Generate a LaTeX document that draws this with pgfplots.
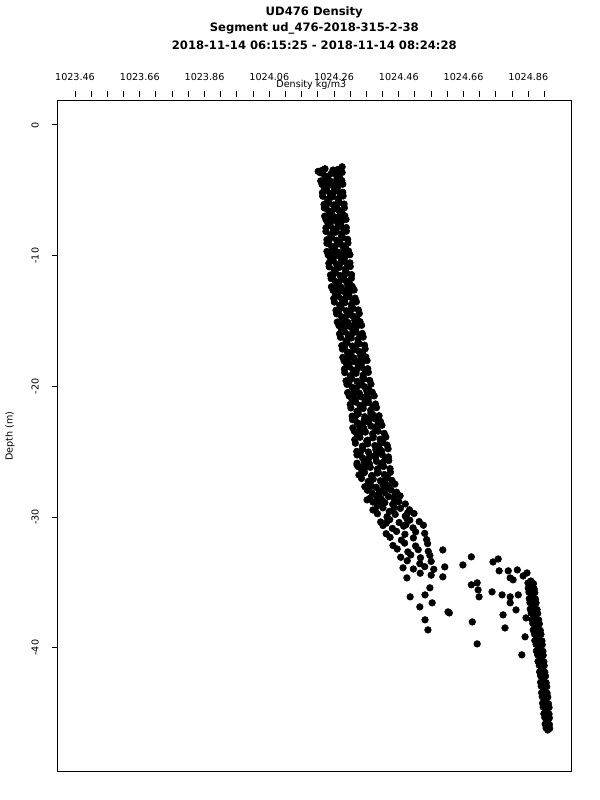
\documentclass[border=0pt]{standalone}
\usepackage{fontspec}
\setmainfont{DejaVu Sans}
\usepackage{pgfplots}
\pgfplotsset{compat=1.18}
\begin{document}
\begin{tikzpicture}
\useasboundingbox (0,0) rectangle (450pt,600pt);
\begin{axis}[name=ax, at={(42.98pt,21.53pt)}, anchor=south west,
  scale only axis, width=385.5pt, height=502.95pt,
  xmin=1023.4053, xmax=1024.9928, ymin=-49.46, ymax=1.86,
  axis line style={line width=0.75pt},
  xtick pos=right, xticklabel pos=right, ytick pos=left, yticklabel pos=left,
  tick align=outside, major tick length=4pt,
  xtick={1023.46,1023.51,1023.56,1023.61,1023.66,1023.71,1023.76,1023.81,1023.86,1023.91,1023.96,1024.01,1024.06,1024.11,1024.16,1024.21,1024.26,1024.31,1024.36,1024.41,1024.46,1024.51,1024.56,1024.61,1024.66,1024.71,1024.76,1024.81,1024.86,1024.91},
  xticklabels={1023.46,,,,1023.66,,,,1023.86,,,,1024.06,,,,1024.26,,,,1024.46,,,,1024.66,,,,1024.86,},
  ytick={-40,-30,-20,-10,0},
  yticklabels={-40,-30,-20,-10,0},
  tick style={black, line width=0.75pt},
  xtick style={yshift=3pt},
  tick label style={font=\fontsize{7.2}{8}\selectfont},
  xticklabel style={anchor=base, yshift=10.8pt},
  yticklabel style={xshift=-10pt, rotate=90, anchor=base},
]
\addplot[only marks, mark=*, mark size=2.5pt, black] coordinates {
(1024.211,-3.55) (1024.232,-3.35) (1024.257,-3.45) (1024.285,-3.20) (1024.272,-3.40)
(1024.217,-3.65) (1024.231,-3.87) (1024.252,-3.70) (1024.267,-3.83) (1024.285,-3.63)
(1024.219,-4.28) (1024.237,-4.10) (1024.250,-4.32) (1024.269,-4.14) (1024.284,-4.25)
(1024.223,-4.55) (1024.237,-4.77) (1024.252,-4.60) (1024.272,-4.73) (1024.287,-4.53)
(1024.224,-5.18) (1024.237,-5.00) (1024.257,-5.22) (1024.270,-5.04) (1024.287,-5.15)
(1024.225,-5.45) (1024.243,-5.67) (1024.255,-5.50) (1024.274,-5.63) (1024.288,-5.43)
(1024.229,-6.08) (1024.243,-5.90) (1024.258,-6.12) (1024.276,-5.94) (1024.291,-6.05)
(1024.230,-6.35) (1024.243,-6.57) (1024.262,-6.40) (1024.275,-6.53) (1024.292,-6.33)
(1024.231,-6.98) (1024.249,-6.80) (1024.260,-7.02) (1024.279,-6.84) (1024.293,-6.95)
(1024.235,-7.25) (1024.249,-7.47) (1024.264,-7.30) (1024.282,-7.43) (1024.297,-7.23)
(1024.235,-7.88) (1024.248,-7.70) (1024.268,-7.92) (1024.281,-7.74) (1024.298,-7.85)
(1024.235,-8.15) (1024.253,-8.37) (1024.265,-8.20) (1024.284,-8.33) (1024.298,-8.13)
(1024.238,-8.78) (1024.252,-8.60) (1024.268,-8.82) (1024.287,-8.64) (1024.302,-8.75)
(1024.238,-9.05) (1024.252,-9.27) (1024.272,-9.10) (1024.286,-9.23) (1024.303,-9.03)
(1024.238,-9.68) (1024.257,-9.50) (1024.270,-9.72) (1024.290,-9.54) (1024.305,-9.65)
(1024.242,-9.95) (1024.257,-10.17) (1024.273,-10.00) (1024.293,-10.13) (1024.309,-9.93)
(1024.244,-10.58) (1024.258,-10.40) (1024.278,-10.62) (1024.292,-10.44) (1024.309,-10.55)
(1024.245,-10.85) (1024.264,-11.07) (1024.276,-10.90) (1024.296,-11.03) (1024.310,-10.83)
(1024.249,-11.48) (1024.264,-11.30) (1024.279,-11.52) (1024.299,-11.34) (1024.314,-11.45)
(1024.251,-11.75) (1024.264,-11.97) (1024.284,-11.80) (1024.297,-11.93) (1024.314,-11.73)
(1024.252,-12.38) (1024.270,-12.20) (1024.282,-12.42) (1024.302,-12.24) (1024.316,-12.35)
(1024.257,-12.65) (1024.272,-12.87) (1024.287,-12.70) (1024.307,-12.83) (1024.322,-12.63)
(1024.259,-13.28) (1024.273,-13.10) (1024.294,-13.32) (1024.307,-13.14) (1024.325,-13.25)
(1024.261,-13.55) (1024.280,-13.77) (1024.293,-13.60) (1024.314,-13.73) (1024.329,-13.53)
(1024.266,-14.18) (1024.282,-14.00) (1024.298,-14.22) (1024.319,-14.04) (1024.335,-14.15)
(1024.268,-14.45) (1024.283,-14.67) (1024.305,-14.50) (1024.319,-14.63) (1024.338,-14.43)
(1024.270,-15.08) (1024.290,-14.90) (1024.303,-15.12) (1024.324,-14.94) (1024.340,-15.05)
(1024.275,-15.35) (1024.291,-15.57) (1024.308,-15.40) (1024.328,-15.53) (1024.345,-15.33)
(1024.277,-15.98) (1024.292,-15.80) (1024.314,-16.02) (1024.328,-15.84) (1024.347,-15.95)
(1024.280,-16.25) (1024.300,-16.47) (1024.313,-16.30) (1024.334,-16.43) (1024.350,-16.23)
(1024.284,-16.88) (1024.300,-16.70) (1024.317,-16.92) (1024.337,-16.74) (1024.354,-16.85)
(1024.286,-17.15) (1024.301,-17.37) (1024.323,-17.20) (1024.337,-17.33) (1024.356,-17.13)
(1024.287,-17.78) (1024.307,-17.60) (1024.321,-17.82) (1024.342,-17.64) (1024.358,-17.75)
(1024.291,-18.05) (1024.307,-18.27) (1024.324,-18.10) (1024.345,-18.23) (1024.362,-18.03)
(1024.292,-18.68) (1024.307,-18.50) (1024.330,-18.72) (1024.345,-18.54) (1024.364,-18.65)
(1024.293,-18.95) (1024.313,-19.17) (1024.328,-19.00) (1024.350,-19.13) (1024.366,-18.93)
(1024.297,-19.58) (1024.314,-19.40) (1024.331,-19.62) (1024.353,-19.44) (1024.370,-19.55)
(1024.300,-19.85) (1024.316,-20.07) (1024.339,-19.90) (1024.354,-20.03) (1024.374,-19.83)
(1024.302,-20.48) (1024.323,-20.30) (1024.338,-20.52) (1024.361,-20.34) (1024.378,-20.45)
(1024.307,-20.75) (1024.325,-20.97) (1024.343,-20.80) (1024.366,-20.93) (1024.384,-20.73)
(1024.310,-21.38) (1024.327,-21.20) (1024.351,-21.42) (1024.367,-21.24) (1024.388,-21.35)
(1024.312,-21.65) (1024.334,-21.87) (1024.350,-21.70) (1024.373,-21.83) (1024.391,-21.63)
(1024.316,-22.28) (1024.335,-22.10) (1024.355,-22.32) (1024.379,-22.14) (1024.399,-22.25)
(1024.317,-22.55) (1024.331,-22.77) (1024.353,-22.60) (1024.367,-22.73) (1024.387,-22.50) (1024.403,-22.68)
(1024.318,-23.18) (1024.338,-23.00) (1024.352,-23.22) (1024.374,-23.04) (1024.390,-23.15) (1024.408,-22.98)
(1024.323,-23.45) (1024.340,-23.67) (1024.357,-23.50) (1024.379,-23.63) (1024.396,-23.43) (1024.415,-23.60)
(1024.324,-24.08) (1024.340,-23.90) (1024.364,-24.12) (1024.380,-23.94) (1024.402,-24.05) (1024.420,-23.88)
(1024.326,-24.35) (1024.348,-24.57) (1024.364,-24.40) (1024.386,-24.53) (1024.404,-24.33) (1024.424,-24.50)
(1024.330,-24.98) (1024.348,-24.80) (1024.366,-25.02) (1024.389,-24.84) (1024.407,-24.95) (1024.427,-24.78)
(1024.331,-25.25) (1024.348,-25.47) (1024.371,-25.30) (1024.388,-25.43) (1024.409,-25.23) (1024.428,-25.40)
(1024.331,-25.88) (1024.353,-25.70) (1024.369,-25.92) (1024.391,-25.74) (1024.409,-25.85) (1024.429,-25.68)
(1024.335,-26.15) (1024.353,-26.37) (1024.372,-26.20) (1024.394,-26.33) (1024.413,-26.13) (1024.433,-26.30)
(1024.337,-26.78) (1024.354,-26.60) (1024.377,-26.82) (1024.394,-26.64) (1024.415,-26.75) (1024.434,-26.58)
(1024.345,-27.05) (1024.366,-27.27) (1024.381,-27.10) (1024.403,-27.23) (1024.420,-27.03) (1024.439,-27.20)
(1024.355,-27.68) (1024.372,-27.50) (1024.390,-27.72) (1024.411,-27.54) (1024.429,-27.65) (1024.448,-27.48)
(1024.363,-27.95) (1024.378,-28.17) (1024.400,-28.00) (1024.416,-28.13) (1024.436,-27.93) (1024.453,-28.10)
(1024.370,-28.58) (1024.391,-28.40) (1024.406,-28.62) (1024.428,-28.44) (1024.445,-28.55) (1024.464,-28.38)
(1024.380,-28.85) (1024.398,-29.07) (1024.417,-28.90) (1024.441,-29.03) (1024.460,-28.83) (1024.480,-29.00)
(1024.387,-29.48) (1024.411,-29.30) (1024.442,-29.52) (1024.465,-29.34) (1024.493,-29.45)
(1024.394,-29.75) (1024.424,-29.97) (1024.449,-29.80) (1024.480,-29.93) (1024.507,-29.73)
(1024.404,-30.38) (1024.432,-30.20) (1024.461,-30.42) (1024.494,-30.24) (1024.523,-30.35)
(1024.411,-30.65) (1024.440,-30.87) (1024.475,-30.70) (1024.504,-30.83) (1024.536,-30.63)
(1024.421,-31.28) (1024.453,-31.10) (1024.479,-31.32) (1024.512,-31.14) (1024.540,-31.25)
(1024.433,-31.55) (1024.468,-31.77) (1024.505,-31.60) (1024.546,-31.73)
(1024.442,-32.18) (1024.478,-32.00) (1024.512,-32.22) (1024.549,-32.04)
(1024.455,-32.45) (1024.488,-32.67) (1024.520,-32.50) (1024.551,-32.63)
(1024.466,-33.08) (1024.497,-32.90) (1024.527,-33.12) (1024.556,-32.94)
(1024.486,-33.35) (1024.525,-33.57) (1024.560,-33.40)
(1024.505,-33.98) (1024.540,-33.80) (1024.568,-34.00)
(1024.526,-34.30) (1024.560,-34.45)
(1024.223,-3.47) (1024.258,-3.59) (1024.242,-3.92) (1024.277,-4.04)
(1024.234,-4.37) (1024.269,-4.49) (1024.230,-4.82) (1024.262,-4.94)
(1024.248,-5.27) (1024.280,-5.39) (1024.240,-5.72) (1024.273,-5.84)
(1024.236,-6.17) (1024.267,-6.29) (1024.253,-6.62) (1024.285,-6.74)
(1024.246,-7.07) (1024.279,-7.19) (1024.241,-7.52) (1024.273,-7.64)
(1024.258,-7.97) (1024.291,-8.09) (1024.250,-8.42) (1024.283,-8.54)
(1024.244,-8.87) (1024.277,-8.99) (1024.262,-9.32) (1024.296,-9.44)
(1024.254,-9.77) (1024.289,-9.89) (1024.249,-10.22) (1024.283,-10.34)
(1024.268,-10.67) (1024.302,-10.79) (1024.261,-11.12) (1024.295,-11.24)
(1024.256,-11.57) (1024.289,-11.69) (1024.275,-12.02) (1024.308,-12.14)
(1024.268,-12.47) (1024.302,-12.59) (1024.264,-12.92) (1024.298,-13.04)
(1024.285,-13.37) (1024.319,-13.49) (1024.278,-13.82) (1024.314,-13.94)
(1024.274,-14.27) (1024.309,-14.39) (1024.295,-14.72) (1024.331,-14.84)
(1024.287,-15.17) (1024.324,-15.29) (1024.283,-15.62) (1024.319,-15.74)
(1024.304,-16.07) (1024.340,-16.19) (1024.297,-16.52) (1024.334,-16.64)
(1024.292,-16.97) (1024.327,-17.09) (1024.312,-17.42) (1024.349,-17.54)
(1024.304,-17.87) (1024.341,-17.99) (1024.299,-18.32) (1024.335,-18.44)
(1024.319,-18.77) (1024.357,-18.89) (1024.310,-19.22) (1024.349,-19.34)
(1024.306,-19.67) (1024.343,-19.79) (1024.329,-20.12) (1024.367,-20.24)
(1024.321,-20.57) (1024.361,-20.69) (1024.316,-21.02) (1024.356,-21.14)
(1024.340,-21.47) (1024.380,-21.59) (1024.331,-21.92) (1024.374,-22.04)
(1024.325,-22.37) (1024.368,-22.49) (1024.350,-22.82) (1024.395,-22.94)
(1024.340,-23.27) (1024.388,-23.39) (1024.333,-23.72) (1024.381,-23.84)
(1024.361,-24.17) (1024.411,-24.29) (1024.349,-24.62) (1024.400,-24.74)
(1024.341,-25.07) (1024.390,-25.19) (1024.367,-25.52) (1024.417,-25.64)
(1024.354,-25.97) (1024.405,-26.09) (1024.346,-26.42) (1024.396,-26.54)
(1024.376,-26.87) (1024.425,-26.99) (1024.370,-27.32) (1024.419,-27.44)
(1024.369,-27.77) (1024.415,-27.89) (1024.400,-28.22) (1024.448,-28.34)
(1024.396,-28.67) (1024.447,-28.79) (1024.394,-29.12) (1024.446,-29.24)
(1024.431,-29.57) (1024.487,-29.69) (1024.424,-30.02) (1024.485,-30.14)
(1024.421,-30.47) (1024.482,-30.59)
(1024.331,-26.01) (1024.362,-28.69) (1024.380,-29.46) (1024.596,-32.52) (1024.602,-33.82)
(1024.596,-34.58) (1024.658,-33.67) (1024.473,-33.89) (1024.485,-34.66) (1024.556,-35.42)
(1024.495,-36.11) (1024.541,-35.96) (1024.525,-36.88) (1024.563,-36.57) (1024.612,-37.26)
(1024.541,-37.87) (1024.550,-38.64)
(1024.684,-33.05) (1024.751,-33.44) (1024.767,-33.21) (1024.770,-34.12) (1024.798,-34.12)
(1024.826,-34.05) (1024.804,-34.66) (1024.813,-34.81) (1024.844,-34.51) (1024.856,-34.28)
(1024.684,-35.19) (1024.702,-35.04) (1024.705,-35.58) (1024.708,-36.11) (1024.748,-35.73)
(1024.779,-35.96) (1024.804,-36.11) (1024.829,-35.96) (1024.804,-36.57) (1024.616,-37.34)
(1024.687,-38.03) (1024.782,-37.49) (1024.822,-37.11) (1024.788,-38.49) (1024.702,-39.71)
(1024.850,-39.17) (1024.840,-40.55) (1024.853,-37.72)
(1024.859,-35.05) (1024.868,-34.90) (1024.876,-35.10)
(1024.860,-35.45) (1024.871,-35.32) (1024.878,-35.50)
(1024.862,-35.75) (1024.869,-35.90) (1024.880,-35.78)
(1024.863,-36.25) (1024.874,-36.12) (1024.882,-36.28)
(1024.865,-36.55) (1024.873,-36.70) (1024.884,-36.58)
(1024.866,-37.05) (1024.877,-36.92) (1024.887,-37.08)
(1024.869,-37.35) (1024.877,-37.50) (1024.889,-37.38)
(1024.871,-37.85) (1024.882,-37.72) (1024.892,-37.88)
(1024.874,-38.15) (1024.882,-38.30) (1024.894,-38.18)
(1024.875,-38.65) (1024.887,-38.52) (1024.897,-38.68)
(1024.879,-38.95) (1024.887,-39.10) (1024.899,-38.98)
(1024.880,-39.45) (1024.892,-39.32) (1024.902,-39.48)
(1024.884,-39.75) (1024.892,-39.90) (1024.903,-39.78)
(1024.885,-40.25) (1024.896,-40.12) (1024.905,-40.28)
(1024.889,-40.55) (1024.896,-40.70) (1024.906,-40.58)
(1024.890,-41.05) (1024.900,-40.92) (1024.908,-41.08)
(1024.894,-41.35) (1024.900,-41.50) (1024.909,-41.38)
(1024.895,-41.85) (1024.904,-41.72) (1024.911,-41.88)
(1024.898,-42.15) (1024.904,-42.30) (1024.913,-42.18)
(1024.898,-42.65) (1024.907,-42.52) (1024.915,-42.68)
(1024.900,-42.95) (1024.907,-43.10) (1024.917,-42.98)
(1024.901,-43.45) (1024.910,-43.32) (1024.918,-43.48)
(1024.903,-43.75) (1024.910,-43.90) (1024.920,-43.78)
(1024.904,-44.25) (1024.913,-44.12) (1024.922,-44.28)
(1024.906,-44.55) (1024.914,-44.70) (1024.924,-44.58)
(1024.908,-45.05) (1024.916,-44.92) (1024.924,-45.08)
(1024.911,-45.35) (1024.917,-45.50) (1024.925,-45.38)
(1024.912,-45.85) (1024.919,-45.72) (1024.925,-45.88)
(1024.915,-46.15) (1024.920,-46.30) (1024.926,-46.18)
};
\end{axis}
\node[anchor=base, font=\bfseries\fontsize{8.7}{10}\selectfont] at (235.7pt,588pt) {UD476 Density};
\node[anchor=base, font=\bfseries\fontsize{8.7}{10}\selectfont] at (235.7pt,576pt) {Segment ud\_476-2018-315-2-38};
\node[anchor=base, font=\bfseries\fontsize{8.7}{10}\selectfont] at (235.7pt,562.5pt) {2018-11-14 06:15:25 - 2018-11-14 08:24:28};
\node[anchor=base, font=\fontsize{7.2}{8}\selectfont] at (233.5pt,534pt) {Density kg/m3};
\node[anchor=base, rotate=90, font=\fontsize{7.2}{8}\selectfont] at (9.4pt,273pt) {Depth (m)};
\end{tikzpicture}
\end{document}
